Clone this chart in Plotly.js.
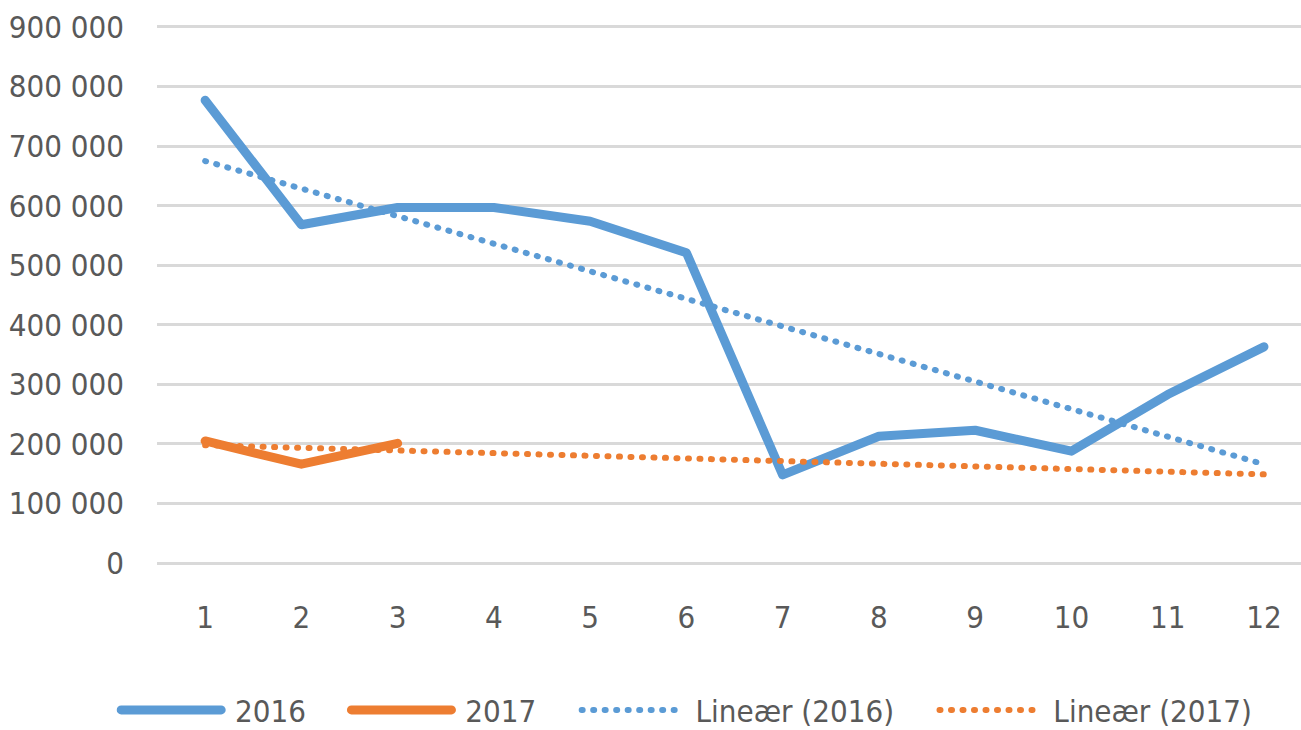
<!DOCTYPE html>
<html>
<head>
<meta charset="utf-8">
<script src="https://cdn.plot.ly/plotly-3.0.1.min.js"></script>
<style>
html,body{margin:0;padding:0;background:#fff;}
#chart{width:1301px;height:730px;}
</style>
</head>
<body>
<div id="chart"></div>
<script>
const months = [1,2,3,4,5,6,7,8,9,10,11,12];
const values2016 = [777000, 568000, 597000, 597000, 574000, 521000, 148000, 213000, 223000, 188000, 283000, 363000];
const months2017 = [1,2,3];
const values2017 = [205000, 166000, 201000];
const trendX = [1, 12];
const trend2016 = [675000, 166000];
const trend2017 = [198000, 149000];
const yTicks = [0,100000,200000,300000,400000,500000,600000,700000,800000,900000];
const seriesNames = ['2016', '2017', 'Lineær (2016)', 'Lineær (2017)'];

const blue = '#5B9BD5', orange = '#ED7D31';
const font = '"DejaVu Sans Condensed", "Liberation Sans Narrow", sans-serif';
const fs = 31;
const lead = '\u00A0';
const pad = '\u00A0\u00A0\u00A0\u00A0';

const traces = [
  {x: months, y: values2016, name: lead + seriesNames[0] + pad, mode: 'lines', line: {color: blue, width: 9}},
  {x: months2017, y: values2017, name: lead + seriesNames[1] + pad, mode: 'lines', line: {color: orange, width: 9}},
  {x: trendX, y: trend2016, name: lead + seriesNames[2] + pad, mode: 'lines', line: {color: blue, width: 6, dash: '1px,10.5px'}},
  {x: trendX, y: trend2017, name: lead + seriesNames[3], mode: 'lines', line: {color: orange, width: 6, dash: '1px,10.5px'}}
];

const layout = {
  width: 1301, height: 730,
  margin: {l: 157, r: 0, t: 24, b: 166},
  paper_bgcolor: '#fff', plot_bgcolor: '#fff',
  separators: ', ',
  font: {family: font, size: fs, color: '#595959'},
  showlegend: true,
  legend: {orientation: 'h', x: 0.463, xanchor: 'center', xref: 'paper',
           y: 0.027, yanchor: 'middle', yref: 'container',
           font: {family: font, size: fs, color: '#595959'}, itemwidth: 100},
  xaxis: {range: [0.5, 12.385], tickvals: months, ticktext: months.map(String),
          showgrid: false, zeroline: false, showline: false, ticks: '', ticklabelstandoff: 32,
          tickfont: {family: font, size: fs, color: '#595959'}},
  yaxis: {range: [-1500, 905000], tickvals: yTicks, tickformat: ',d',
          showgrid: true, gridcolor: '#D9D9D9', gridwidth: 3,
          zeroline: true, zerolinecolor: '#D9D9D9', zerolinewidth: 3, showline: false,
          ticks: '', ticklabelstandoff: 32,
          tickfont: {family: font, size: fs, color: '#595959'}}
};

Plotly.newPlot('chart', traces, layout, {displayModeBar: false, staticPlot: true}).then(function(){
  document.querySelectorAll('.scatterlayer .js-line, .legend .js-line').forEach(function(p){
    p.style.strokeLinecap = 'round';
    p.style.strokeLinejoin = 'round';
  });
});
</script>
</body>
</html>
